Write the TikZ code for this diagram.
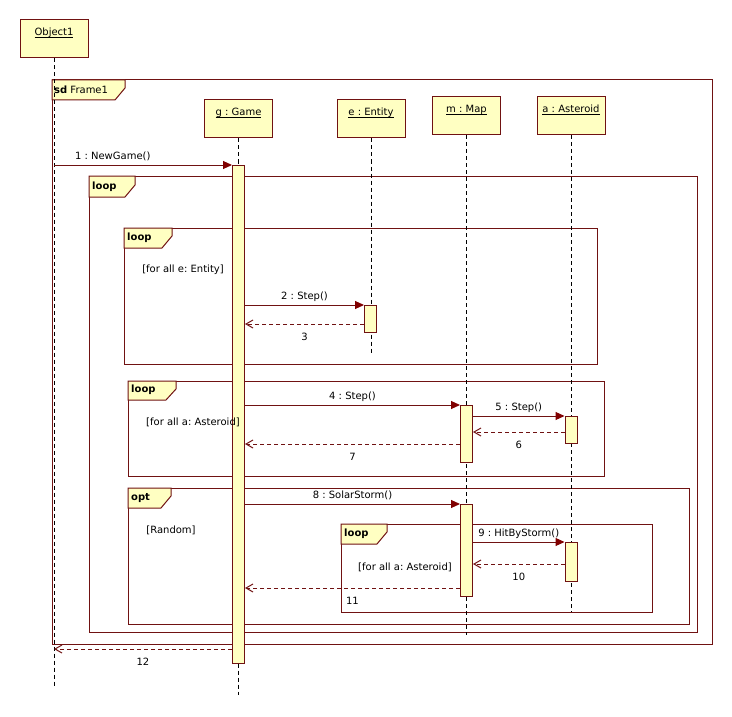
\documentclass[tikz,border=0pt]{standalone}
\usepackage{fontspec}
\setmainfont{DejaVu Sans}
\frenchspacing
\usetikzlibrary{arrows.meta}

\newcommand{\ulname}[1]{\leavevmode\setbox0\hbox{#1}%
  \rlap{\vrule height -1.3pt depth 2.2pt width \wd0}\box0}

\definecolor{umlred}{RGB}{112,18,18}
\definecolor{umlhead}{RGB}{128,0,0}
\definecolor{umlfill}{RGB}{255,255,194}

\tikzset{
  obj/.style={draw=umlred, fill=umlfill, line width=1pt, minimum width=68pt,
    text height=8pt, text depth=14pt, inner ysep=8pt},
  act/.style={draw=umlred, fill=umlfill, line width=1pt, minimum width=12pt,
    inner sep=0pt, anchor=north},
  life/.style={black, line width=1pt, dash pattern=on 4pt off 3pt},
  frag/.style={draw=umlred, line width=1pt},
  tab/.style={draw=umlred, fill=umlfill, line width=1pt},
  call/.style={umlred, line width=1pt, -{Triangle[length=9pt,width=8pt,color=umlhead]}},
  ret/.style={umlred, line width=1pt, dash pattern=on 4pt off 3pt,
    -{Straight Barb[length=7pt,width=8pt]}},
  lbl/.style={text=black, inner sep=3pt, text height=8pt, text depth=2pt},
  lblup/.style={lbl, above},
  lbldown/.style={lbl, below=5pt}
}

\begin{document}
\begin{tikzpicture}[x=1pt, y=-1pt, font=\fontsize{10}{12}\selectfont]
    \useasboundingbox (0,0) rectangle (732,717);

    % フレーム sd
    \draw[frag] (52,80) rectangle (712,644);
    \filldraw[tab] (52,80) -- (125,80) -- (125,88) -- (115,100) -- (52,100) -- cycle;
    \node[anchor=west, inner sep=2pt] (sdname) at (52,90) {\textbf{sd} Frame1};

    % loop (外側)
    \draw[frag] (89,176) rectangle (697,632);
    \filldraw[tab] (89,176) -- (135,176) -- (135,185) -- (125,197) -- (89,197) -- cycle;
    \node[anchor=west, inner sep=3pt] (loopA) at (89,187) {\textbf{loop}};

    % loop (e: Entity)
    \draw[frag] (124,228) rectangle (597,364);
    \filldraw[tab] (124,228) -- (172,228) -- (172,236) -- (162,248) -- (124,248) -- cycle;
    \node[anchor=west, inner sep=3pt] (loopB) at (124,238) {\textbf{loop}};

    % loop (a: Asteroid)
    \draw[frag] (128,381) rectangle (604,476);
    \filldraw[tab] (128,381) -- (176,381) -- (176,389) -- (166,400) -- (128,400) -- cycle;
    \node[anchor=west, inner sep=3pt] (loopC) at (128,390) {\textbf{loop}};

    % opt
    \draw[frag] (128,488) rectangle (689,624);
    \filldraw[tab] (128,488) -- (171,488) -- (171,496) -- (161,508) -- (128,508) -- cycle;
    \node[anchor=west, inner sep=3pt] (optD) at (128,498) {\textbf{opt}};

    % loop (opt の中)
    \draw[frag] (341,524) rectangle (652,612);
    \filldraw[tab] (341,524) -- (387,524) -- (387,532) -- (377,544) -- (341,544) -- cycle;
    \node[anchor=west, inner sep=3pt] (loopE) at (341,534) {\textbf{loop}};

    % オブジェクト
    \node[obj] (obj) at (54,39) {\ulname{Object1}};
    \node[obj] (game) at (238.5,119) {\ulname{g : Game}};
    \node[obj] (entity) at (371,119) {\ulname{e : Entity}};
    \node[obj] (map) at (466.5,115.5) {\ulname{m : Map}};
    \node[obj] (ast) at (571,115.5) {\ulname{a : Asteroid}};

    % ライフライン
    \draw[life] (obj.south) -- (obj.south |- 0,687);
    \draw[life] (game.south) -- (game.south |- 0,695);
    \draw[life] (entity.south) -- (entity.south |- 0,353);
    \draw[life] (map.south) -- (map.south |- 0,635);
    \draw[life] (ast.south) -- (ast.south |- 0,612);

    % 活性区間
    \node[act, minimum height=498pt] (gact) at (238.5,165) {};
    \node[act, minimum height=27pt] (eact) at (370.5,305) {};
    \node[act, minimum height=57pt] (mact1) at (466.5,405) {};
    \node[act, minimum height=27pt] (aact1) at (571,416) {};
    \node[act, minimum height=92pt] (mact2) at (466.5,504) {};
    \node[act, minimum height=39pt] (aact2) at (571,542) {};

    % ガード条件
    \node (guardB) at (183,270) {[for all e: Entity]};
    \node (guardC) at (193,422) {[for all a: Asteroid]};
    \node (guardD) at (171,530) {[Random]};
    \node (guardE) at (405,567) {[for all a: Asteroid]};

    % メッセージ
    \draw[call] (obj |- gact.north) -- (gact.north west)
        node[lblup, pos=.33] (m1) {1 : NewGame()};
    \draw[call] (gact.east |- eact.north) -- (eact.north west)
        node[lblup, midway] (m2) {2 : Step()};
    \draw[ret] (eact.west |- 0,324) -- (gact.east |- 0,324)
        node[lbldown, midway] (m3) {3};
    \draw[call] (gact.east |- mact1.north) -- (mact1.north west)
        node[lblup, midway] (m4) {4 : Step()};
    \draw[call] (mact1.east |- aact1.north) -- (aact1.north west)
        node[lblup, midway] (m5) {5 : Step()};
    \draw[ret] (aact1.west |- 0,432) -- (mact1.east |- 0,432)
        node[lbldown, midway] (m6) {6};
    \draw[ret] (mact1.west |- 0,444) -- (gact.east |- 0,444)
        node[lbldown, midway] (m7) {7};
    \draw[call] (gact.east |- mact2.north) -- (mact2.north west)
        node[lblup, midway] (m8) {8 : SolarStorm()};
    \draw[call] (mact2.east |- aact2.north) -- (aact2.north west)
        node[lblup, midway] (m9) {9 : HitByStorm()};
    \draw[ret] (aact2.west |- 0,564) -- (mact2.east |- 0,564)
        node[lbldown, midway] (m10) {10};
    \draw[ret] (mact2.west |- 0,588) -- (gact.east |- 0,588)
        node[lbldown, midway] (m11) {11};
    \draw[ret] (gact.west |- 0,649) -- (obj |- 0,649)
        node[lbldown, midway] (m12) {12};
\end{tikzpicture}
\end{document}
